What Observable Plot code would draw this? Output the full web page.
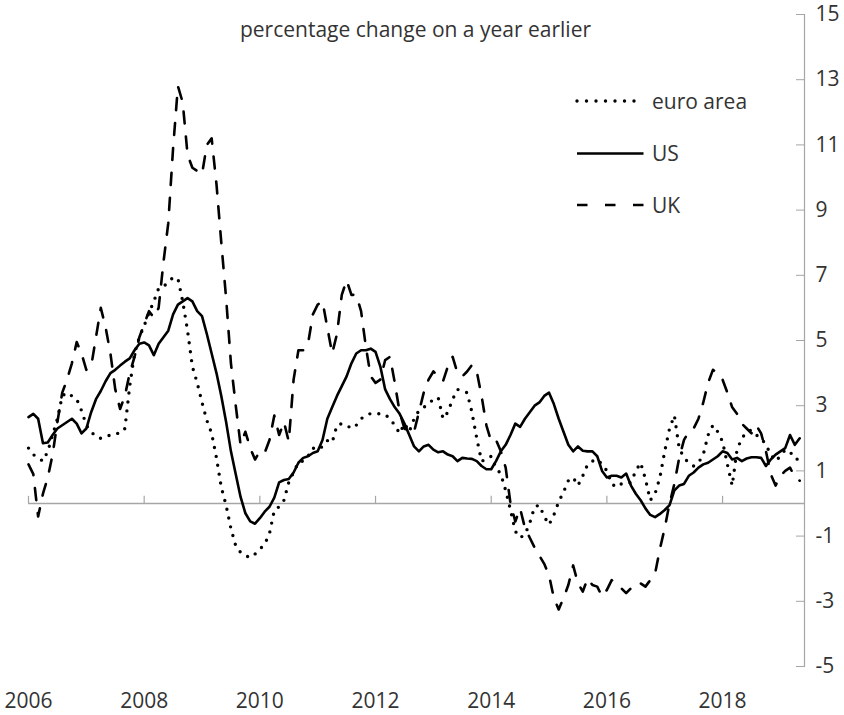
<!DOCTYPE html>
<html>
<head>
<meta charset="utf-8">
<script src="https://cdn.jsdelivr.net/npm/d3@7"></script>
<script src="https://cdn.jsdelivr.net/npm/@observablehq/plot@0.6"></script>
<style>
  html, body { margin: 0; padding: 0; background: #fff; }
  #wrap { position: relative; width: 844px; height: 715px; }
  #overlay { position: absolute; left: 0; top: 0; pointer-events: none; }
  text { font-family: 'Open Sans', sans-serif; }
</style>
</head>
<body>
<div id="wrap"></div>
<script>
// ---- data (monthly, Jan 2006 – May 2019), percentage change on a year earlier ----
const startYear = 2006;
const seriesNames = ["euro area", "US", "UK"];
const xTickYears = [2006, 2008, 2010, 2012, 2014, 2016, 2018];
const yTickValues = [-5, -3, -1, 1, 3, 5, 7, 9, 11, 13, 15];

const euroArea = [
  1.7, 1.5, 1.4, 1.3, 1.6, 2.1, 2.6, 3.3, 3.4, 3.3, 3.2, 2.85,
  2.4, 2.2, 2.05, 2.0, 2.05, 2.1, 2.15, 2.15, 2.3, 3.6, 4.6, 5.1,
  5.45, 5.85, 6.2, 6.6, 6.65, 6.8, 6.93, 6.9, 6.2, 5.3, 4.2, 3.7,
  3.1, 2.55, 2.15, 1.4, 0.5, -0.06, -0.77, -1.3, -1.5, -1.6, -1.66, -1.55,
  -1.4, -1.25, -0.92, -0.21, -0.1, 0.1, 0.65, 0.95, 1.27, 1.3, 1.45, 1.7,
  1.65, 1.75, 1.93, 1.87, 2.4, 2.45, 2.4, 2.3, 2.4, 2.6, 2.7, 2.76,
  2.76, 2.75, 2.73, 2.6, 2.4, 2.15, 2.45, 2.2, 2.6, 2.85, 2.95, 3.05,
  3.2, 3.25, 2.6, 2.8, 3.2, 3.5, 3.45, 3.4, 2.8, 2.0, 1.3, 1.35,
  1.45, 1.1, 0.9, 0.4, -0.2, -0.85, -1.05, -0.95, -0.6, -0.1, -0.05, -0.4,
  -0.65, -0.35, 0.05, 0.35, 0.7, 0.8, 0.55, 0.85, 1.2, 1.3, 1.35, 1.2,
  1.0, 0.6, 0.5, 0.6, 0.6, 0.65, 1.0, 1.25, 0.75, 0.1, 0.3, 0.8,
  1.6, 2.3, 2.7, 1.7, 1.4, 1.25, 1.15, 1.25, 1.5, 2.1, 2.4, 2.2,
  1.9, 1.2, 0.55, 1.65, 2.0, 2.2, 2.25, 2.1, 2.0, 1.8, 1.5, 1.3,
  1.45, 1.65, 1.55, 1.5, 1.2
];

const us = [
  2.65, 2.75, 2.6, 1.85, 1.87, 2.1, 2.3, 2.4, 2.5, 2.6, 2.45, 2.15,
  2.3, 2.8, 3.2, 3.45, 3.75, 4.0, 4.1, 4.23, 4.35, 4.45, 4.7, 4.9,
  4.94, 4.85, 4.55, 4.9, 5.1, 5.3, 5.8, 6.1, 6.2, 6.3, 6.2, 5.9,
  5.75, 5.2, 4.6, 4.0, 3.3, 2.5, 1.6, 0.9, 0.2, -0.3, -0.55, -0.62,
  -0.45, -0.25, -0.1, 0.18, 0.65, 0.72, 0.75, 0.95, 1.25, 1.4, 1.45, 1.55,
  1.6, 1.95, 2.6, 2.95, 3.3, 3.6, 3.9, 4.3, 4.6, 4.7, 4.7, 4.75,
  4.65, 4.2, 3.5, 3.2, 2.95, 2.75, 2.45, 2.1, 1.75, 1.6, 1.75, 1.8,
  1.65, 1.57, 1.6, 1.5, 1.45, 1.3, 1.4, 1.38, 1.37, 1.3, 1.15, 1.05,
  1.05, 1.3, 1.6, 1.8, 2.1, 2.45, 2.35, 2.6, 2.8, 3.0, 3.1, 3.3,
  3.4, 3.05, 2.6, 2.2, 1.8, 1.6, 1.75, 1.62, 1.6, 1.6, 1.45, 1.0,
  0.8, 0.85, 0.85, 0.8, 0.92, 0.55, 0.3, 0.1, -0.15, -0.35, -0.42, -0.32,
  -0.2, -0.05, 0.4, 0.55, 0.6, 0.85, 0.95, 1.1, 1.2, 1.25, 1.35, 1.45,
  1.6, 1.55, 1.35, 1.4, 1.3, 1.38, 1.42, 1.42, 1.4, 1.15, 1.35, 1.5,
  1.6, 1.7, 2.1, 1.8, 2.0
];

const uk = [
  1.2, 0.9, -0.4, 0.3, 0.8, 1.5, 2.5, 3.4, 3.8, 4.3, 4.95, 4.6,
  4.1, 4.2, 5.1, 6.0, 5.4, 4.6, 3.5, 2.9, 3.3, 4.0, 4.5, 5.1,
  5.5, 5.9, 5.7, 6.0, 7.4, 8.6, 10.9, 12.8, 12.3, 10.7, 10.3, 10.2,
  10.1, 11.0, 11.2, 9.8, 8.0, 6.3, 4.3, 3.0, 1.8, 2.2, 1.7, 1.35,
  1.6, 1.55, 1.95, 2.7, 2.1, 2.5, 1.9, 3.8, 4.7, 4.7, 4.9, 5.8,
  6.1, 6.2, 5.4, 4.6, 5.2, 6.4, 6.85, 6.4, 6.4, 5.9, 4.8, 3.9,
  3.7, 3.8, 4.4, 4.5, 3.7, 2.8, 2.3, 2.2, 2.2, 2.8, 3.4, 3.8,
  4.05, 3.9, 3.75, 4.2, 4.5, 4.0, 3.9, 4.05, 4.25, 4.05, 3.3, 2.4,
  1.9, 1.95, 1.6, 1.1, 0.0, -0.55, -0.15, -0.75, -1.05, -1.35, -1.6, -1.85,
  -2.2, -2.9, -3.25, -2.9, -2.5, -1.9, -2.45, -2.7, -2.3, -2.5, -2.55, -2.85,
  -2.65, -2.35, -2.5, -2.6, -2.75, -2.6, -2.45, -2.45, -2.55, -2.35, -2.15, -1.4,
  -0.75, 0.0, 0.6, 1.4, 1.95, 2.2, 2.3, 2.6, 3.1, 3.7, 4.1, 4.0,
  3.8, 3.4, 2.95, 2.75, 2.45, 2.3, 2.15, 2.4, 2.15, 1.6, 0.9, 0.55,
  0.85, 1.0, 1.1, 0.8, 0.7
];

// ---- build table ----
const toRows = (vals, name) => vals.map((v, i) => ({series: name, t: startYear + i / 12, value: v}));
const rows = [
  ...toRows(euroArea, seriesNames[0]),
  ...toRows(us, seriesNames[1]),
  ...toRows(uk, seriesNames[2])
];
const xEnd = startYear + (euroArea.length) / 12; // end of the period shown
const axisGrey = "#a6a6a6";
const textColor = "#333333";

const plot = Plot.plot({
  width: 844,
  height: 715,
  marginLeft: 28,
  marginRight: 40,
  marginTop: 14,
  marginBottom: 49,
  style: {fontFamily: "'Open Sans', sans-serif", fontSize: "21px", background: "#fff", color: textColor},
  x: {domain: [startYear, xEnd]},
  y: {domain: [d3.min(yTickValues), d3.max(yTickValues)]},
  marks: [
    Plot.ruleY([0], {stroke: axisGrey, strokeWidth: 1.4}),
    Plot.ruleX(xTickYears, {x: d => d, y1: 0, y2: 0.22, stroke: axisGrey, strokeWidth: 1.2}),
    Plot.ruleX([xEnd], {y1: d3.min(yTickValues), y2: d3.max(yTickValues), stroke: axisGrey, strokeWidth: 1.2}),
    Plot.axisY({anchor: "right", ticks: yTickValues, tickFormat: d => String(d), tickSize: -9, tickPadding: 20,
      stroke: axisGrey, color: textColor, label: null}),
    Plot.axisX({anchor: "bottom", ticks: xTickYears, tickFormat: d => String(d), tickSize: 0, tickPadding: 27,
      color: textColor, label: null}),
    Plot.line(rows.filter(d => d.series === "euro area"), {x: "t", y: "value", stroke: "#000",
      strokeWidth: 3.4, strokeDasharray: "0,9", strokeLinecap: "round"}),
    Plot.line(rows.filter(d => d.series === "UK"), {x: "t", y: "value", stroke: "#000",
      strokeWidth: 2.6, strokeDasharray: "12,13"}),
    Plot.line(rows.filter(d => d.series === "US"), {x: "t", y: "value", stroke: "#000",
      strokeWidth: 2.6, strokeLinejoin: "round"})
  ]
});

const wrap = document.getElementById("wrap");
wrap.appendChild(plot);

// ---- title and legend overlay ----
const ns = "http://www.w3.org/2000/svg";
const ov = document.createElementNS(ns, "svg");
ov.setAttribute("id", "overlay");
ov.setAttribute("width", 844);
ov.setAttribute("height", 715);
function el(tag, attrs, txt) {
  const e = document.createElementNS(ns, tag);
  for (const k in attrs) e.setAttribute(k, attrs[k]);
  if (txt) e.textContent = txt;
  ov.appendChild(e);
  return e;
}
el("text", {x: 415.5, y: 37, "text-anchor": "middle", "font-size": 21, fill: textColor}, "percentage change on a year earlier");
const legendStyles = [
  {dash: "0,9.5", width: 3.4, cap: "round", y: 101, ty: 109},
  {dash: null, width: 2.6, cap: "butt", y: 153.5, ty: 161},
  {dash: "10.5,17.5", width: 2.6, cap: "butt", y: 205, ty: 213}
];
seriesNames.forEach((name, i) => {
  const s = legendStyles[i];
  const a = {x1: 577, x2: 643.5, y1: s.y, y2: s.y, stroke: "#000", "stroke-width": s.width, "stroke-linecap": s.cap};
  if (s.dash) a["stroke-dasharray"] = s.dash;
  el("line", a);
  el("text", {x: 652, y: s.ty, "font-size": 21, fill: textColor}, name);
});
wrap.appendChild(ov);
</script>
</body>
</html>
